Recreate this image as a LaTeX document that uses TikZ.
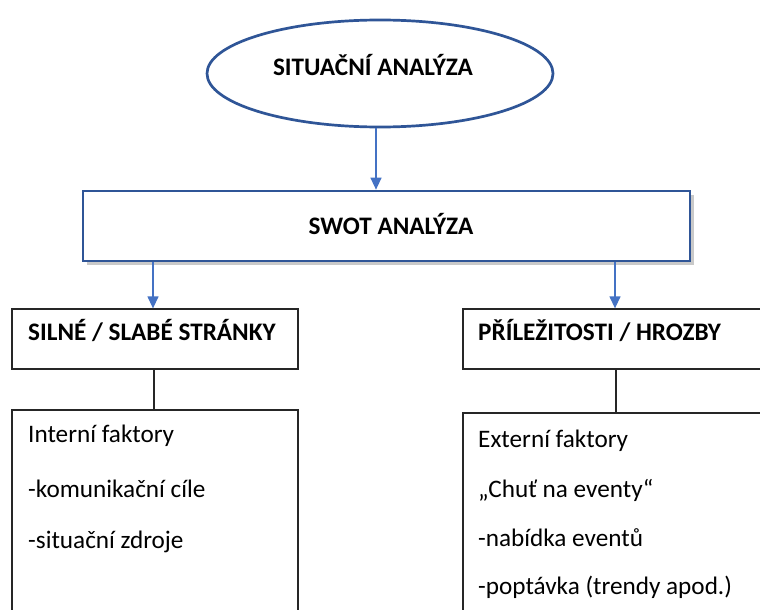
\documentclass[tikz,border=0pt]{standalone}
\usepackage{fontspec}
\setmainfont{Carlito}
\usetikzlibrary{shapes.geometric,arrows.meta,shadows}
\definecolor{dblue}{HTML}{2F5597}
\definecolor{lblue}{HTML}{4472C4}
\definecolor{gline}{HTML}{262626}
\begin{document}
\begin{tikzpicture}[x=1pt,y=-1pt,
  every node/.style={font=\fontsize{25.2}{30}\selectfont, inner sep=0pt},
  hd/.style={font=\fontsize{25.2}{30}\selectfont\bfseries, anchor=base west},
  bodytxt/.style={anchor=base west},
  arr/.style={draw=lblue, line width=1.3pt, -{Triangle[width=11pt,length=12pt,fill=lblue]}},
  bx/.style={draw=gline, line width=1.3pt, rectangle},
  link/.style={draw=gline, line width=1.3pt}
]
\useasboundingbox (0,0) rectangle (760,610);
\clip (0,0) rectangle (760,610);
\fill[white] (0,0) rectangle (760,610);

% top ellipse
\node[ellipse, draw=dblue, line width=2.7pt, fill=white, minimum width=346pt, minimum height=107pt] (e) at (380,73.5) {};
\node[hd, anchor=base] (et) at (373,75) {SITUAČNÍ ANALÝZA};

% SWOT box
\node[draw=dblue, line width=2.7pt, fill=white, minimum width=607pt, minimum height=70pt,
  drop shadow={shadow xshift=3.5pt, shadow yshift=-3.5pt, opacity=0.35, fill=black!60}] (sw) at (386.5,226) {};
\node[hd, anchor=base] (swt) at (391,234) {SWOT ANALÝZA};

% header boxes
\node[bx, minimum width=286pt, minimum height=60pt] (lh) at (155,339) {};
\node[hd] (lht) at (28,340) {SILNÉ / SLABÉ STRÁNKY};
\node[bx, minimum width=347pt, minimum height=60pt] (rh) at (636.5,339) {};
\node[hd] (rht) at (478,340) {PŘÍLEŽITOSTI / HROZBY};

% content boxes
\node[bx, minimum width=286pt, minimum height=250pt] (lc) at (155,535) {};
\node[bodytxt] (l1) at (28,442) {Interní faktory};
\node[bodytxt] (l2) at (28,497) {-komunikační cíle};
\node[bodytxt] (l3) at (28,548) {-situační zdroje};

\node[bx, minimum width=347pt, minimum height=250pt] (rc) at (636.5,538) {};
\node[bodytxt] (r1) at (478,447) {Externí faktory};
\node[bodytxt] (r2) at (478,497) {„Chuť na eventy“};
\node[bodytxt] (r3) at (478,546) {-nabídka eventů};
\node[bodytxt] (r4) at (478,594) {-poptávka (trendy apod.)};

% connectors
\coordinate (ea) at (376,0);
\coordinate (la) at (153,0);
\coordinate (ra) at (615,0);
\coordinate (ll) at (154,0);
\coordinate (rl) at (616,0);
\draw[arr] (ea |- e.south) -- (ea |- sw.north);
\draw[arr] (la |- sw.south) -- (la |- lh.north);
\draw[arr] (ra |- sw.south) -- (ra |- rh.north);
\draw[link] (ll |- lh.south) -- (ll |- lc.north);
\draw[link] (rl |- rh.south) -- (rl |- rc.north);
\end{tikzpicture}
\end{document}
